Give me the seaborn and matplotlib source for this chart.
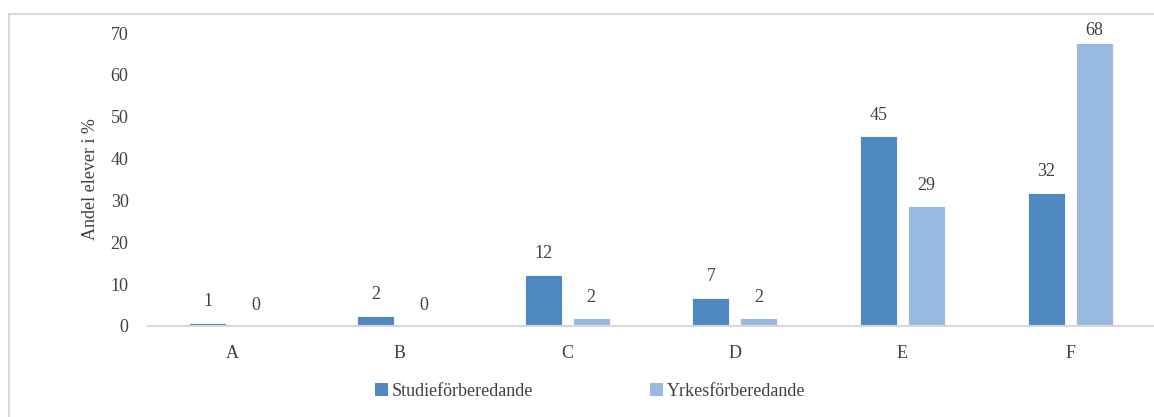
import pandas as pd
import matplotlib.pyplot as plt
import seaborn as sns
from matplotlib.lines import Line2D
from matplotlib.patches import Patch

categories = ['A', 'B', 'C', 'D', 'E', 'F']
studie = [0.8, 2.4, 12.2, 6.8, 45.3, 31.8]
yrkes = [0.0, 0.0, 1.8, 1.8, 28.6, 67.6]
series_names = ['Studieförberedande', 'Yrkesförberedande']
colors = ['#4F89BF', '#98B9E0']


def build_frame():
    rows = []
    for name, vals in zip(series_names, [studie, yrkes]):
        for cat, v in zip(categories, vals):
            rows.append({'Kategori': cat, 'Serie': name, 'Andel': v})
    return pd.DataFrame(rows)


def main():
    sns.set_style('white')
    plt.rcParams['font.family'] = ['Liberation Serif', 'DejaVu Serif']
    text_color = '#404040'

    df = build_frame()
    fig = plt.figure(figsize=(11.54, 4.17), dpi=100)
    # plot area runs off the right edge of the crop
    ax = fig.add_axes([148 / 1154, 1 - 326 / 417, (1154 - 148) / 1154, (326 - 33) / 417])

    sns.barplot(data=df, x='Kategori', y='Andel', hue='Serie', order=categories,
                hue_order=series_names, palette=colors, saturation=1, width=0.572, gap=0.23,
                edgecolor='white', linewidth=0.6, legend=False, ax=ax)

    # labels above bars; the tallest one is pushed down to stay inside the frame
    for cont in ax.containers:
        for bar, v in zip(cont, cont.datavalues):
            pad = 3 if v > 64 else 9
            ax.annotate(f'{v:.0f}', (bar.get_x() + bar.get_width() / 2, v),
                        xytext=(0, pad), textcoords='offset points',
                        ha='center', va='bottom', fontsize=13, color=text_color)

    ax.set_ylim(0, 70)
    ax.set_xlim(-0.5, 5.5)
    ax.set_yticks(range(0, 71, 10))
    ax.tick_params(axis='both', length=0, labelsize=13, colors=text_color)
    ax.tick_params(axis='x', pad=14)
    ax.tick_params(axis='y', pad=14)
    ax.set_xlabel('')
    ax.set_ylabel('Andel elever i %', fontsize=13, color=text_color, labelpad=8)
    for s in ['top', 'right', 'left']:
        ax.spines[s].set_visible(False)
    ax.spines['bottom'].set_color('#D9D9D9')
    ax.spines['bottom'].set_linewidth(1.5)

    handles = [Patch(facecolor=c, edgecolor='none') for c in colors]
    fig.legend(handles, series_names, loc='center', bbox_to_anchor=(590 / 1154, 1 - 391 / 417),
               ncol=2, frameon=False, fontsize=13, handlelength=0.7, handleheight=0.7,
               handletextpad=0.2, columnspacing=6.5, labelcolor=text_color)

    # outer chart frame (only top and left edges visible in the crop)
    fig.add_artist(Line2D([8.5 / 1154, 1], [1 - 13.5 / 417, 1 - 13.5 / 417],
                          transform=fig.transFigure, color='#D9D9D9', lw=1.5))
    fig.add_artist(Line2D([8.5 / 1154, 8.5 / 1154], [0, 1 - 13.5 / 417],
                          transform=fig.transFigure, color='#D9D9D9', lw=1.5))

    fig.savefig('out.png', dpi=100)


if __name__ == "__main__":
    main()
